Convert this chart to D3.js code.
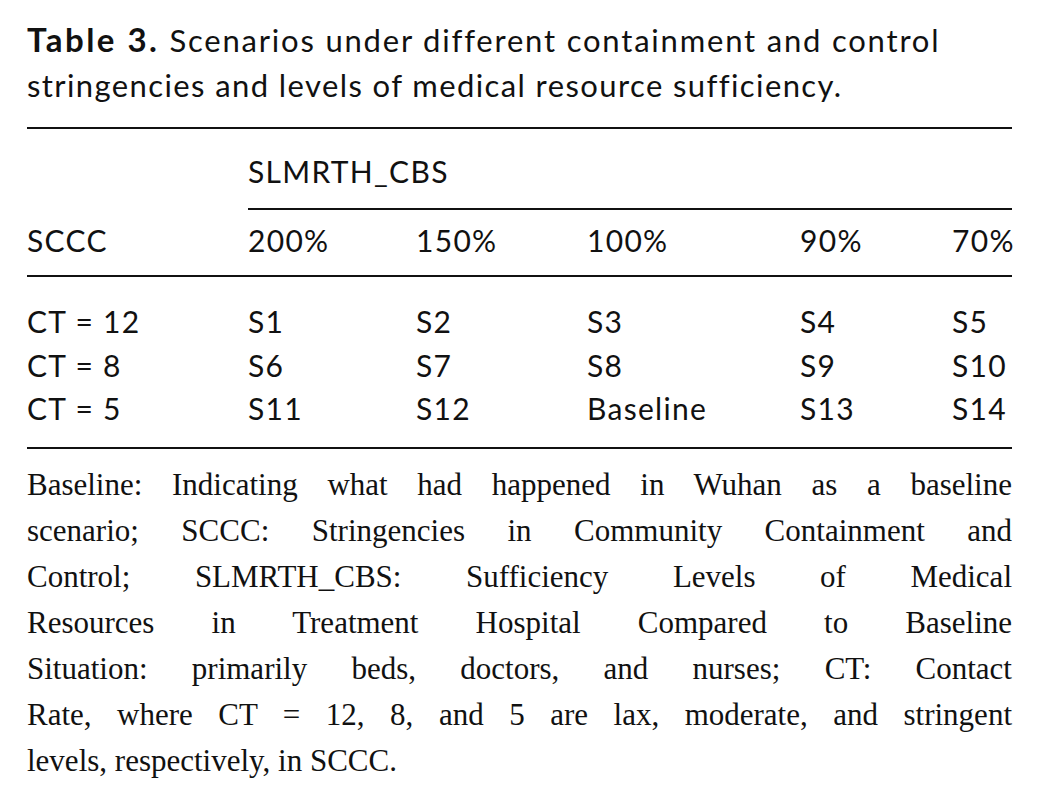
<!DOCTYPE html>
<html><head><meta charset="utf-8">
<script src="https://cdn.jsdelivr.net/npm/d3@7"></script>
<style>body{margin:0;background:#fff}</style>
</head><body>
<svg id="tab" width="1038" height="805"></svg>
<script>
const titleBold = "Table 3.";
const titleLines = ["Scenarios under different containment and control",
  "stringencies and levels of medical resource sufficiency."];
const groupHeader = "SLMRTH_CBS";
const rowHeader = "SCCC";
const columns = ["200%", "150%", "100%", "90%", "70%"];
const rows = ["CT = 12", "CT = 8", "CT = 5"];
const cells = [
  ["S1", "S2", "S3", "S4", "S5"],
  ["S6", "S7", "S8", "S9", "S10"],
  ["S11", "S12", "Baseline", "S13", "S14"]
];
const noteLines = [
  "Baseline: Indicating what had happened in Wuhan as a baseline",
  "scenario; SCCC: Stringencies in Community Containment and",
  "Control; SLMRTH_CBS: Sufficiency Levels of Medical",
  "Resources in Treatment Hospital Compared to Baseline",
  "Situation: primarily beds, doctors, and nurses; CT: Contact",
  "Rate, where CT = 12, 8, and 5 are lax, moderate, and stringent",
  "levels, respectively, in SCCC."
];

const svg = d3.select("#tab");
const left = 27, right = 1012;
const sans = "Lato, 'Open Sans', sans-serif";
const serif = "'Liberation Serif', 'DejaVu Serif', serif";

const x = d3.scaleOrdinal().domain(columns).range([248, 416, 587, 800, 952]);
const y = d3.scaleOrdinal().domain(rows).range([333, 377, 420]);

// title
const t1 = svg.append("text").attr("x", left).attr("y", 52)
  .attr("font-family", sans).attr("font-size", 31).attr("fill", "#111")
  .attr("letter-spacing", 1.8);
t1.append("tspan").attr("font-weight", "bold").attr("font-size", 33).attr("letter-spacing", 2.5).text(titleBold);
t1.append("tspan").attr("dx", 10).text(titleLines[0]);
svg.append("text").attr("x", left).attr("y", 97).attr("letter-spacing", 1.4)
  .attr("font-family", sans).attr("font-size", 31).attr("fill", "#111").text(titleLines[1]);

// rules
const rule = (x1, x2, yy) => svg.append("line").attr("x1", x1).attr("x2", x2)
  .attr("y1", yy).attr("y2", yy).attr("stroke", "#111").attr("stroke-width", 2);
rule(left, right, 128);
rule(248, right, 209);
rule(left, right, 276);
rule(left, right, 448);

const txt = (s, xx, yy) => svg.append("text").attr("x", xx).attr("y", yy)
  .attr("font-family", sans).attr("font-size", 30).attr("fill", "#111")
  .attr("letter-spacing", 1.3).text(s);

txt(groupHeader, 248, 183);
txt(rowHeader, left, 252);
columns.forEach(c => txt(c, x(c), 252));

rows.forEach((r, i) => {
  txt(r, left, y(r));
  columns.forEach((c, j) => txt(cells[i][j], x(c), y(r)));
});

// justified footnote: measure each rendered line, then widen word spacing
const width = right - left;
noteLines.forEach((ln, i) => {
  const t = svg.append("text").attr("x", left).attr("y", 495 + i * 46)
    .attr("font-family", serif).attr("font-size", 31).attr("fill", "#111")
    .attr("xml:space", "preserve").text(ln);
  if (i < noteLines.length - 1) {
    const len = t.node().getComputedTextLength();
    const gaps = ln.split(" ").length - 1;
    if (gaps > 0 && len < width) t.attr("word-spacing", (width - len) / gaps);
  }
});
</script>
</body></html>
